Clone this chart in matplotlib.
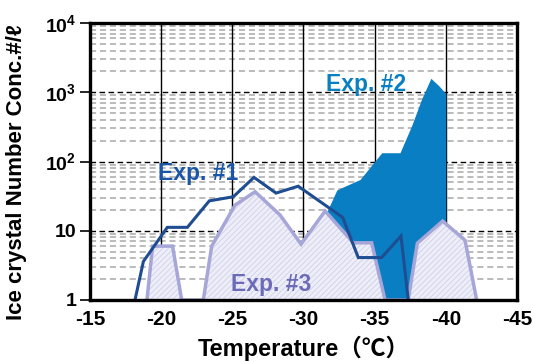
import matplotlib
matplotlib.use("Agg")
import matplotlib.pyplot as plt

plt.rcParams['font.family'] = ['Liberation Sans', 'Noto Sans CJK JP', 'DejaVu Sans']
plt.rcParams['font.weight'] = 'bold'
plt.rcParams['mathtext.fontset'] = 'custom'
plt.rcParams['mathtext.rm'] = 'Liberation Sans:bold'
plt.rcParams['mathtext.bf'] = 'Liberation Sans:bold'
plt.rcParams['hatch.linewidth'] = 0.6

# Exp. #1 (line)
t1 = [-18.16, -18.75, -20.43, -21.84, -23.38, -25.07, -26.52, -28.07,
      -29.63, -31.21, -32.75, -33.85, -35.49, -36.85, -37.36]
n1 = [1.0, 3.6, 11.2, 11.2, 27, 31, 59, 35, 44, 26, 15.6, 4.1, 4.1, 8.4, 1.0]

# Exp. #2 (upper envelope of the filled band)
t2 = [-31.65, -32.34, -32.8, -33.97, -35.5, -36.78, -37.6, -38.3, -38.95, -39.5, -40.0]
n2 = [19, 38.7, 43, 55, 134, 134, 330, 800, 1590, 1250, 960]

# Exp. #3 (filled outline)
t3 = [-19.0, -19.4, -20.8, -21.44, -22.96, -23.55, -25.19, -26.6, -28.35,
      -29.83, -31.52, -33.5, -34.79, -35.73, -37.36, -38.0, -39.78, -41.35, -42.17]
n3 = [1.0, 6.0, 6.0, 1.0, 1.0, 6.0, 23.5, 36.6, 16.9,
      6.4, 19.3, 6.7, 6.7, 1.0, 1.0, 6.6, 13.8, 7.3, 1.0]

xticks = [-15, -20, -25, -30, -35, -40, -45]
yticks = [1, 10, 100, 1000, 10000]
ylabels = ['1', '10', r'$\mathbf{10^2}$', r'$\mathbf{10^3}$', r'$\mathbf{10^4}$']

fig = plt.figure(figsize=(5.33, 3.62), dpi=100)
ax = fig.add_axes([0.1689, 0.1713, 0.801, 0.765])

ax.set_yscale('log')
ax.set_xlim(-15, -45)
ax.set_ylim(1, 10000)

# grid
for dec in [1, 10, 100, 1000]:
    for m in range(2, 10):
        ax.axhline(dec * m, color='#a8a8a8', lw=1.1, ls=(0, (4, 2.5)), zorder=0)
for dec in [10, 100, 1000]:
    ax.axhline(dec, color='black', lw=1.0, ls=(0, (4, 2.5)), zorder=0.5)
for x in xticks[1:-1]:
    ax.axvline(x, color='black', lw=1.0, zorder=0.6)

# Exp. #2
ax.fill_between(t2, n2, 0.5, color='#0a7ec2', lw=0, zorder=1)
# Exp. #3
ax.fill_between(t3, n3, 0.5, facecolor='#eeeef8', edgecolor='#cfcfea',
                hatch='//////', lw=0, zorder=2)
ax.plot(t3, n3, color='#a6a6d8', lw=2.5, zorder=3, solid_joinstyle='miter')
# Exp. #1
ax.plot(t1, n1, color='#1f4d92', lw=2.2, zorder=4, solid_joinstyle='miter')

ax.text(-22.6, 68, 'Exp. #1', color='#1a56a8', fontsize=16.5, ha='center', va='center', zorder=5)
ax.text(-34.4, 1300, 'Exp. #2', color='#0a80c2', fontsize=16.5, ha='center', va='center', zorder=5)
ax.text(-27.7, 1.65, 'Exp. #3', color='#6b6bb8', fontsize=16.5, ha='center', va='center', zorder=5)

ax.set_xticks(xticks)
ax.set_xticklabels([str(x) for x in xticks])
ax.set_yticks(yticks)
ax.set_yticklabels(ylabels)
ax.yaxis.set_minor_locator(matplotlib.ticker.NullLocator())
ax.tick_params(axis='x', length=0, labelsize=15, pad=7)
ax.tick_params(axis='y', length=7, width=1.2, labelsize=14, pad=3)

for s in ax.spines.values():
    s.set_linewidth(2.4)
    s.set_zorder(6)

ax.set_xlabel('Temperature（℃）', fontsize=17, fontweight='bold')
ax.set_ylabel('Ice crystal Number Conc.#/ℓ', fontsize=16, fontweight='bold')
ax.xaxis.set_label_coords(0.5, -0.13)
ax.yaxis.set_label_coords(-0.147, 0.46)

fig.savefig('out.png', dpi=100)
